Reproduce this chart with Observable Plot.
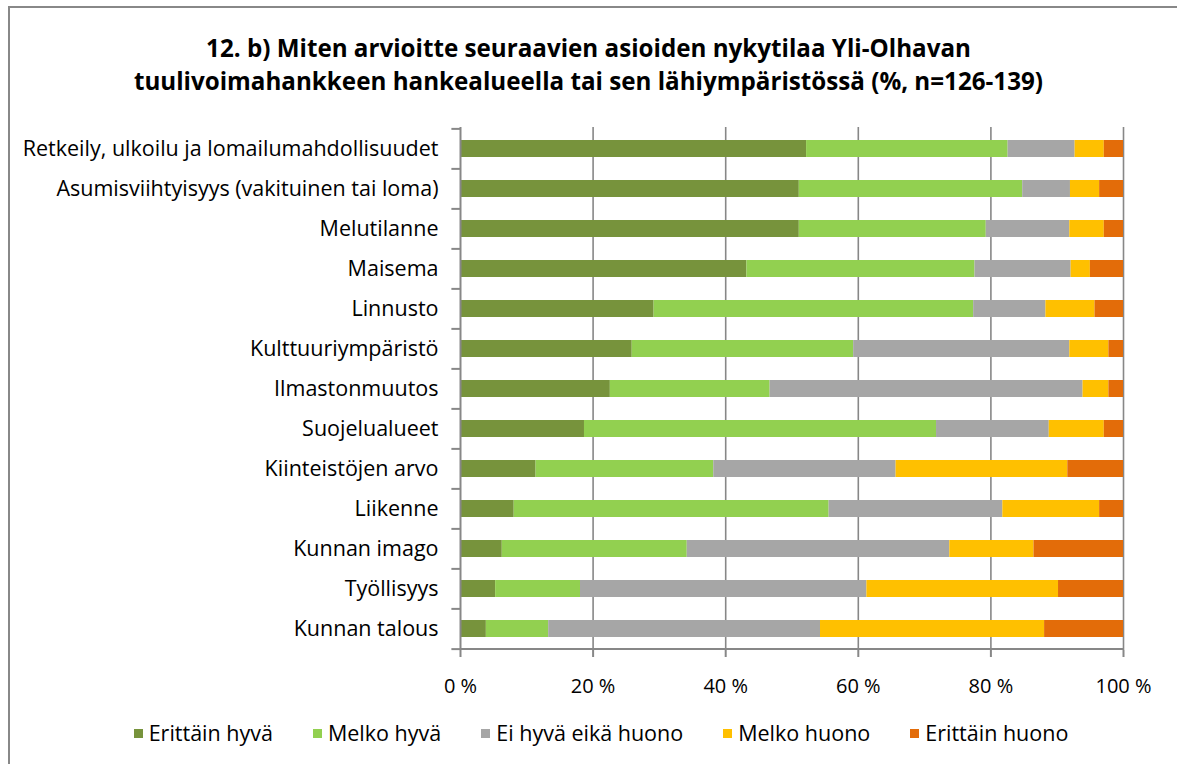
<!DOCTYPE html>
<html><head><meta charset="utf-8">
<script src="https://cdn.jsdelivr.net/npm/d3@7"></script>
<script src="https://cdn.jsdelivr.net/npm/@observablehq/plot@0.6"></script>
<style>
html,body{margin:0;background:#fff;font-family:"Open Sans",sans-serif;overflow:hidden;}
#wrap{position:relative;width:1177px;height:764px;overflow:hidden;background:#fff;}
#frame{position:absolute;left:8px;top:6px;width:1300px;height:900px;border:2px solid #888;box-sizing:border-box;pointer-events:none;}
#title{padding-top:31px;height:66px;text-align:center;font-weight:700;font-size:24.2px;line-height:33px;color:#000;white-space:nowrap;}
#chart svg{display:block;}
#legend{display:flex;justify-content:center;padding-left:25px;height:24px;line-height:24px;font-size:21.5px;color:#000;white-space:nowrap;}
#legend .item{display:flex;align-items:center;margin:0 20px;}
#legend .sw{width:9px;height:9px;margin-right:6px;}
</style></head>
<body>
<div id="wrap">
<div id="frame"></div>
<div id="title">12. b) Miten arvioitte seuraavien asioiden nykytilaa Yli-Olhavan<br>tuulivoimahankkeen hankealueella tai sen lähiympäristössä (%, n=126-139)</div>
<div id="chart"></div>
<div id="legend"></div>
</div>
<script>
const categories = [
  "Retkeily, ulkoilu ja lomailumahdollisuudet",
  "Asumisviihtyisyys (vakituinen tai loma)",
  "Melutilanne",
  "Maisema",
  "Linnusto",
  "Kulttuuriympäristö",
  "Ilmastonmuutos",
  "Suojelualueet",
  "Kiinteistöjen arvo",
  "Liikenne",
  "Kunnan imago",
  "Työllisyys",
  "Kunnan talous"
];
const seriesNames = ["Erittäin hyvä", "Melko hyvä", "Ei hyvä eikä huono", "Melko huono", "Erittäin huono"];
const erittainHyva   = [52.2, 51.1, 51.1, 43.2, 29.2, 25.9, 22.6, 18.7, 11.4,  8.1,  6.3,  5.3,  3.9];
const melkoHyva      = [30.4, 33.7, 28.2, 34.4, 48.2, 33.4, 24.1, 53.1, 26.8, 47.5, 27.9, 12.8,  9.4];
const eiHyvaEikaHuono= [10.1,  7.2, 12.6, 14.5, 10.9, 32.6, 47.2, 17.0, 27.5, 26.2, 39.6, 43.2, 41.0];
const melkoHuono     = [ 4.4,  4.4,  5.2,  2.9,  7.4,  5.9,  3.9,  8.3, 25.9, 14.6, 12.7, 28.9, 33.8];
const erittainHuono  = [ 2.9,  3.6,  2.9,  5.0,  4.3,  2.2,  2.2,  2.9,  8.4,  3.6, 13.5,  9.8, 11.9];
const xTicks = [0, 20, 40, 60, 80, 100];
const colors = ["#77933C", "#92D050", "#A6A6A6", "#FFC000", "#E36C09"];

const seriesValues = [erittainHyva, melkoHyva, eiHyvaEikaHuono, melkoHuono, erittainHuono];
const data = [];
categories.forEach((c, i) => {
  seriesNames.forEach((s, j) => data.push({category: c, series: s, value: seriesValues[j][i]}));
});

const height = 624, marginTop = 30, marginBottom = 71;
const step = (height - marginTop - marginBottom) / categories.length;
const gridColor = "#878787";

const chart = Plot.plot({
  width: 1177,
  height,
  marginTop,
  marginBottom,
  marginLeft: 460,
  marginRight: 54,
  style: {fontFamily: "'Open Sans', sans-serif", fontSize: "21px", color: "#000", background: "transparent", overflow: "visible"},
  x: {domain: [0, 100]},
  y: {domain: categories, paddingInner: 0.58, paddingOuter: 0.29},
  color: {domain: seriesNames, range: colors},
  marks: [
    Plot.ruleX(xTicks.slice(1), {stroke: gridColor, strokeWidth: 1.6}),
    Plot.barX(data, {x: "value", y: "category", fill: "series"}),
    Plot.ruleX([0], {stroke: gridColor, strokeWidth: 2}),
    Plot.ruleY(categories, {y: d => d, x1: -1.3, x2: 0, dy: -step / 2, stroke: gridColor, strokeWidth: 2}),
    Plot.ruleY(categories.slice(-1), {y: d => d, x1: -1.3, x2: 0, dy: step / 2, stroke: gridColor, strokeWidth: 2}),
    Plot.axisX({ticks: xTicks, tickFormat: d => d + " %", tickSize: 7, tickPadding: 21, stroke: gridColor, strokeWidth: 2, label: null, fontSize: 20}),
    Plot.ruleY([categories[categories.length - 1]], {y: d => d, dy: step / 2, stroke: gridColor, strokeWidth: 2}),
    Plot.axisY({tickSize: 0, tickPadding: 22, label: null, fontSize: 21.5})
  ]
});
document.getElementById("chart").appendChild(chart);

const legend = document.getElementById("legend");
seriesNames.forEach((s, j) => {
  const item = document.createElement("div");
  item.className = "item";
  const sw = document.createElement("span");
  sw.className = "sw";
  sw.style.background = colors[j];
  const t = document.createElement("span");
  t.textContent = s;
  item.appendChild(sw);
  item.appendChild(t);
  legend.appendChild(item);
});
</script>
</body></html>
